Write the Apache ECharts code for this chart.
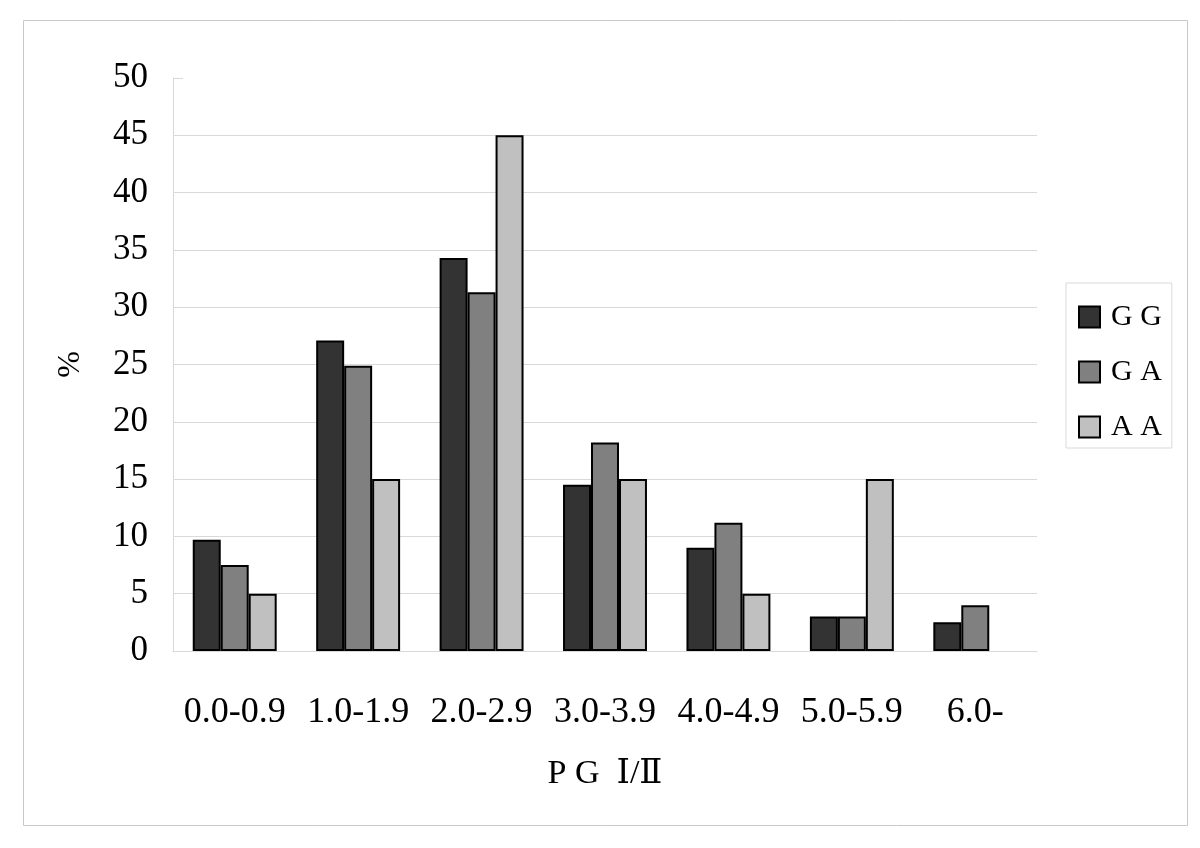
<!DOCTYPE html>
<html>
<head>
<meta charset="utf-8">
<script src="https://cdn.jsdelivr.net/npm/echarts@6/dist/echarts.min.js"></script>
<style>
  html, body { margin: 0; padding: 0; background: #fff; }
  #main { width: 1200px; height: 848px; }
</style>
</head>
<body>
<div id="main"></div>
<script>
var categories = ['0.0-0.9', '1.0-1.9', '2.0-2.9', '3.0-3.9', '4.0-4.9', '5.0-5.9', '6.0-'];
var seriesNames = ['G G', 'G A', 'A A'];
var gg = [9.7, 27.1, 34.3, 14.5, 9.0, 3.0, 2.5];
var ga = [7.5, 24.9, 31.3, 18.2, 11.2, 3.0, 4.0];
var aa = [5.0, 15.0, 45.0, 15.0, 5.0, 15.0, null];
var barColors = ['#333333', '#808080', '#c0c0c0'];

var gridColors = [];
for (var i = 0; i < 10; i++) gridColors.push('#d9d9d9');
gridColors.push('rgba(0,0,0,0)');

var serif = '"Liberation Serif", "DejaVu Serif", serif';

var myChart = echarts.init(document.getElementById('main'));
var option = {
    backgroundColor: '#ffffff',
    animation: false,
    graphic: [{
        type: 'rect',
        shape: { x: 23.5, y: 20.5, width: 1164, height: 805 },
        style: { fill: 'none', stroke: '#c8c8c8', lineWidth: 1 }
    }],
    grid: { left: 173, right: 163, top: 78, bottom: 197 },
    legend: {
        orient: 'vertical',
        left: 1066,
        top: 283,
        padding: [19, 10, 6, 12],
        borderColor: '#d9d9d9',
        borderWidth: 1,
        icon: 'rect',
        itemWidth: 21,
        itemHeight: 21,
        itemGap: 25,
        itemStyle: { borderColor: '#000', borderWidth: 2 },
        textStyle: { fontFamily: serif, fontSize: 30, color: '#000', lineHeight: 21, padding: [0, 0, 0, 6] },
        data: seriesNames
    },
    xAxis: {
        type: 'category',
        data: categories,
        name: 'P G  Ⅰ/Ⅱ',
        nameLocation: 'middle',
        nameGap: 106,
        nameTextStyle: { fontFamily: serif, fontSize: 34, color: '#000' },
        axisLine: { lineStyle: { color: '#d9d9d9', width: 1 } },
        axisTick: { inside: true, length: 10, lineStyle: { color: '#d9d9d9' } },
        axisLabel: { interval: 0, fontFamily: serif, fontSize: 36, color: '#000', margin: 44 }
    },
    yAxis: {
        type: 'value',
        min: 0,
        max: 50,
        interval: 5,
        name: '%',
        nameLocation: 'middle',
        nameGap: 86,
        nameRotate: 90,
        nameTextStyle: { fontFamily: serif, fontSize: 32, color: '#000' },
        axisLine: { show: true, lineStyle: { color: '#d9d9d9', width: 1 } },
        axisTick: { show: true, inside: true, length: 10, lineStyle: { color: '#d9d9d9' } },
        axisLabel: { fontFamily: serif, fontSize: 35, color: '#000', margin: 25 },
        splitLine: { lineStyle: { color: gridColors, width: 1 } }
    },
    series: [
        { name: seriesNames[0], type: 'bar', data: gg, barGap: '0%', barCategoryGap: '32%',
          itemStyle: { color: barColors[0], borderColor: '#000', borderWidth: 2 } },
        { name: seriesNames[1], type: 'bar', data: ga,
          itemStyle: { color: barColors[1], borderColor: '#000', borderWidth: 2 } },
        { name: seriesNames[2], type: 'bar', data: aa,
          itemStyle: { color: barColors[2], borderColor: '#000', borderWidth: 2 } }
    ]
};
myChart.setOption(option);
</script>
</body>
</html>
